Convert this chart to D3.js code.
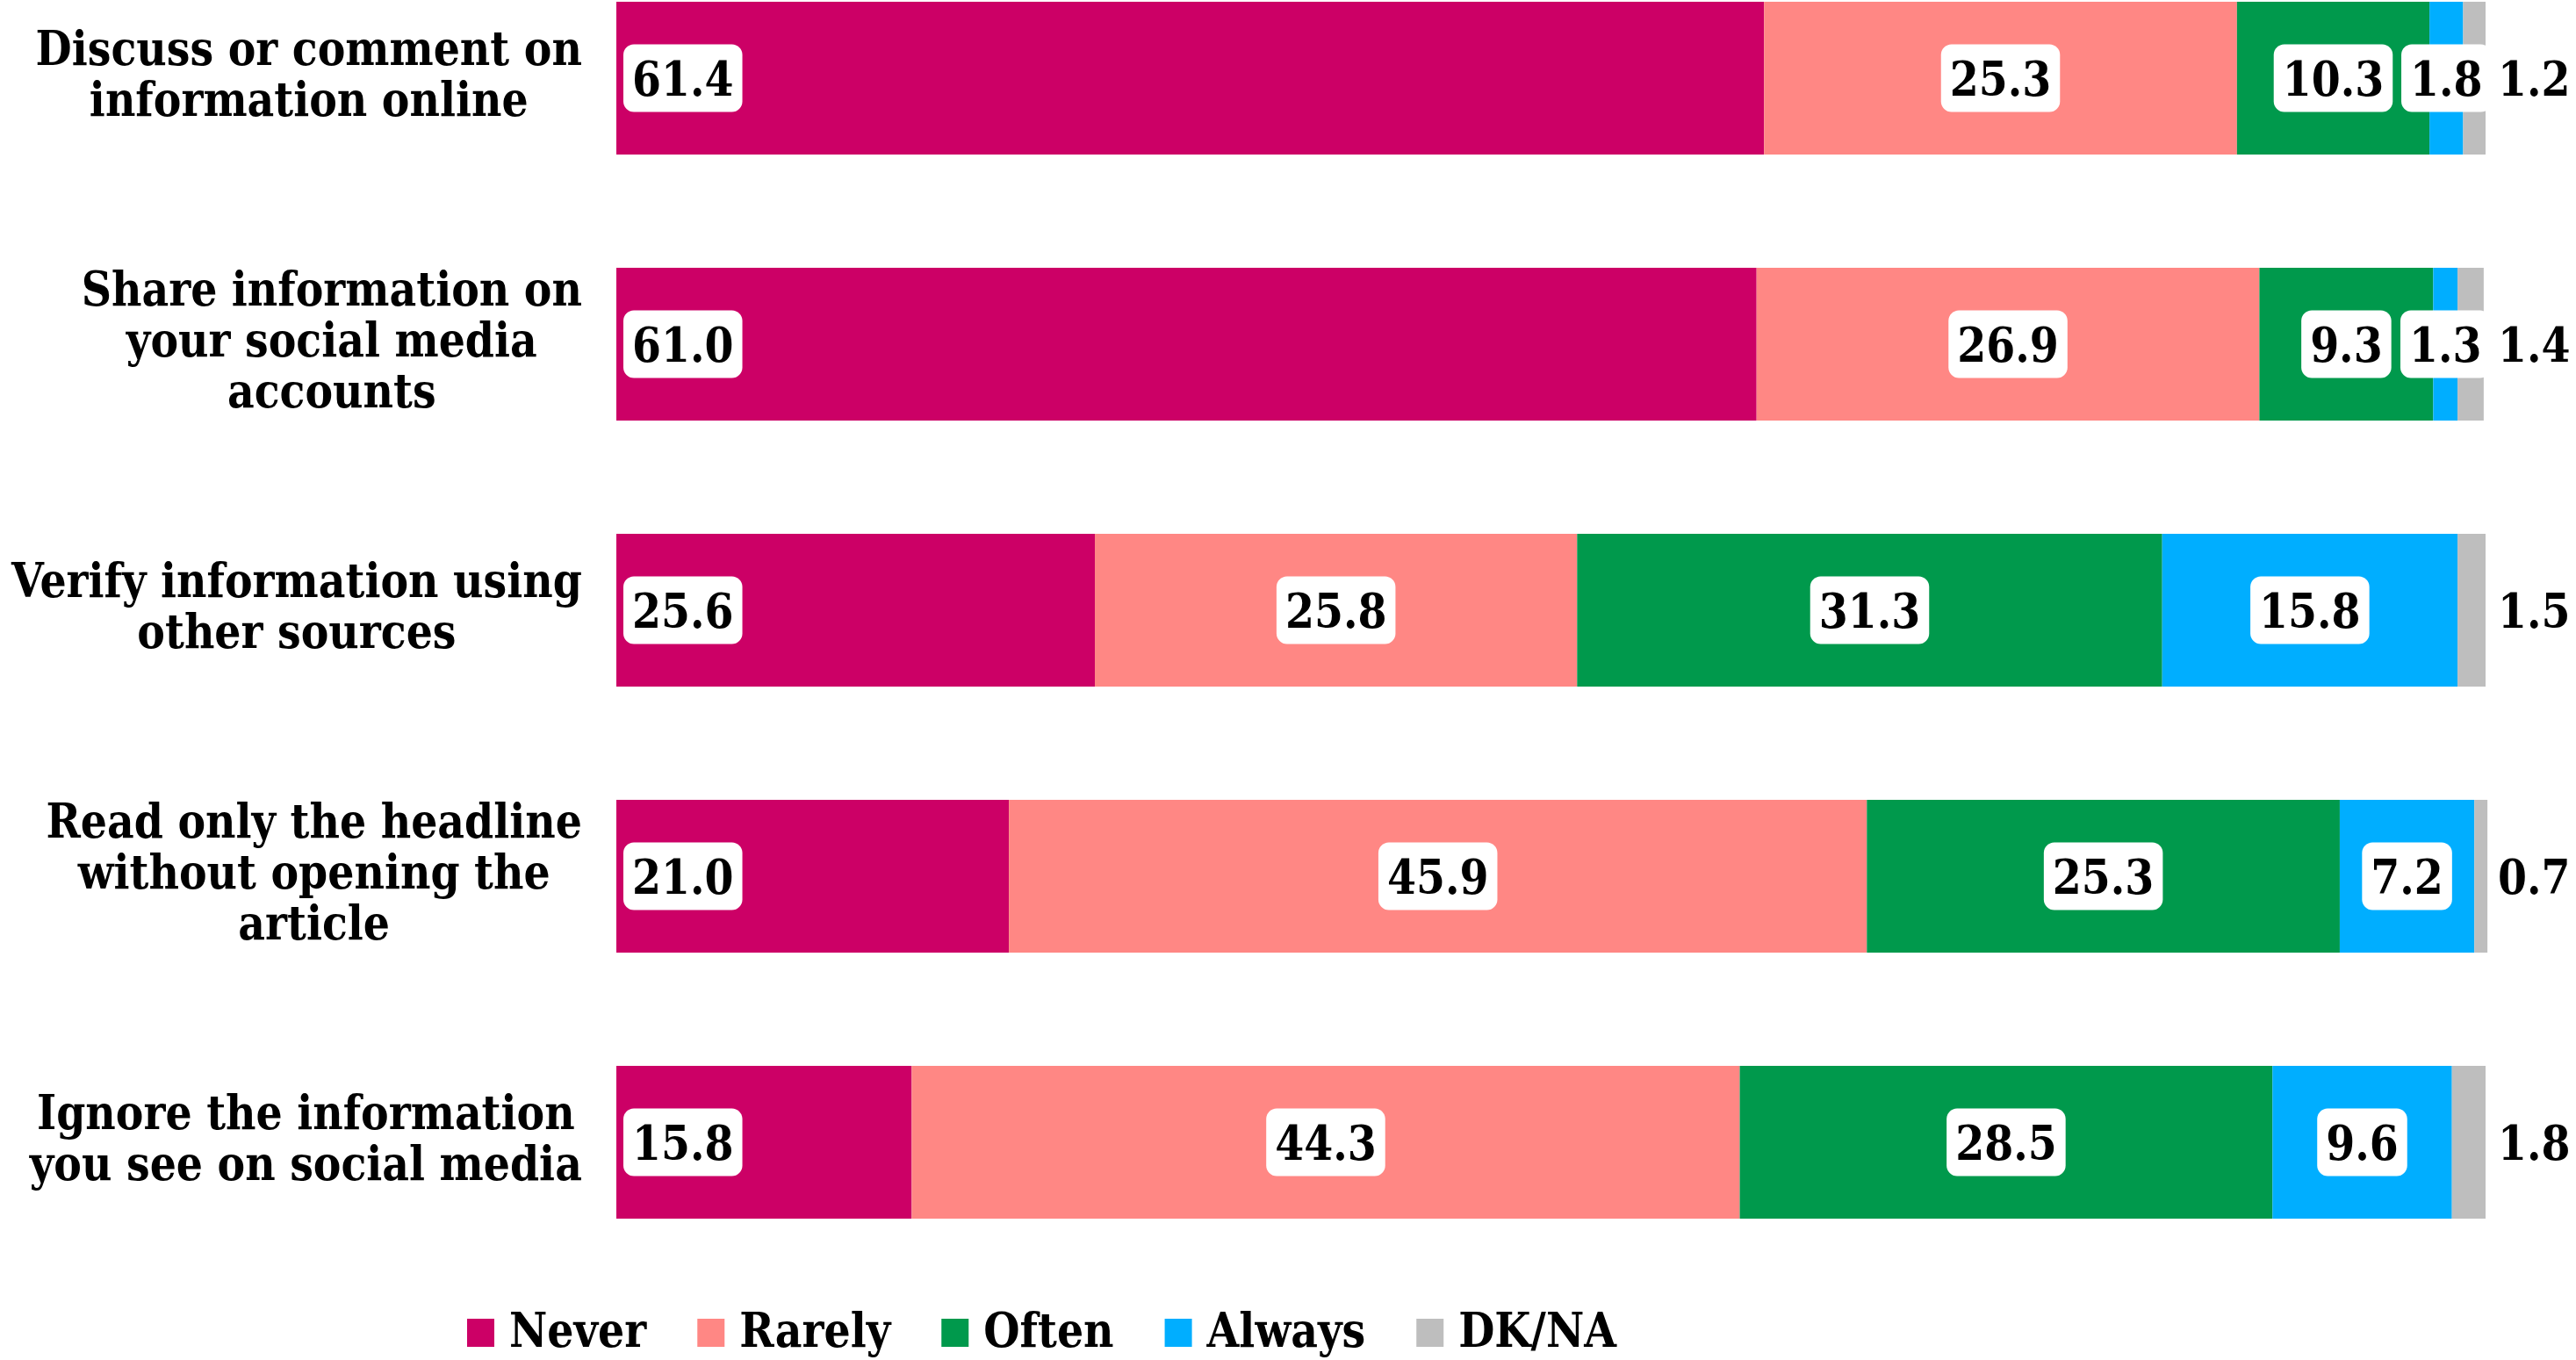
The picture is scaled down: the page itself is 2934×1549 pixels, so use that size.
<!DOCTYPE html>
<html><head><meta charset="utf-8">
<script src="https://cdn.jsdelivr.net/npm/d3@7/dist/d3.min.js"></script>
<style>html,body{margin:0;padding:0;background:#fff;}svg{display:block;}</style>
</head><body>
<svg id="chart" width="2934" height="1549"></svg>
<script>
const categories = [
  ["Discuss or comment on", "information online"],
  ["Share information on", "your social media", "accounts"],
  ["Verify information using", "other sources"],
  ["Read only the headline", "without opening the", "article"],
  ["Ignore the information", "you see on social media"]
];
const seriesNames = ["Never", "Rarely", "Often", "Always", "DK/NA"];
const never  = [61.4, 61.0, 25.6, 21.0, 15.8];
const rarely = [25.3, 26.9, 25.8, 45.9, 44.3];
const often  = [10.3, 9.3, 31.3, 25.3, 28.5];
const always = [1.8, 1.3, 15.8, 7.2, 9.6];
const dkna   = [1.2, 1.4, 1.5, 0.7, 1.8];
const colors = ["#CC0066", "#FF8784", "#00994C", "#00AEFF", "#BEBEBE"];

const valuesBySeries = [never, rarely, often, always, dkna];
const table = categories.map((c, i) => {
  const row = {key: c.join(" ")};
  seriesNames.forEach((s, j) => row[s] = valuesBySeries[j][i]);
  return row;
});

const svg = d3.select("#chart");
const FONT = "'DejaVu Serif', serif";
const FS = 54;

// horizontal condensing factor for text
const probe = svg.append("text").attr("font-family", FONT).attr("font-weight", "bold")
  .attr("font-size", FS).text("Verify information using");
const natW = probe.node().getComputedTextLength();
probe.remove();
const SX = 650 / natW;

const x = d3.scaleLinear().domain([0, 100]).range([702, 2831]);
const y = d3.scaleBand().domain(table.map(d => d.key)).range([2, 1388]).paddingInner(0.4257).paddingOuter(0);

const stack = d3.stack().keys(seriesNames);
const stacked = stack(table);

const gBars = svg.append("g");
stacked.forEach((layer, j) => {
  gBars.selectAll(null).data(layer).enter().append("rect")
    .attr("x", d => x(d[0]))
    .attr("y", d => y(d.data.key))
    .attr("width", d => x(d[1]) - x(d[0]))
    .attr("height", y.bandwidth())
    .attr("fill", colors[j]);
});

function scaledText(g, str, tx, ty, anchor) {
  const t = g.append("text").attr("font-family", FONT).attr("font-weight", "bold")
    .attr("font-size", FS).attr("fill", "#000").text(str);
  const w = t.node().getComputedTextLength() * SX;
  let x0 = tx;
  if (anchor === "middle") x0 = tx - w / 2;
  else if (anchor === "end") x0 = tx - w;
  t.attr("transform", `translate(${x0},${ty}) scale(${SX},1)`);
  return {node: t, w: w};
}

// category labels
const gLab = svg.append("g");
const labelRight = 663, lineH = 58;
categories.forEach((lines, i) => {
  const cy = y(table[i].key) + y.bandwidth() / 2;
  const ws = lines.map(l => {
    const t = gLab.append("text").attr("font-family", FONT).attr("font-weight", "bold").attr("font-size", FS).text(l);
    const w = t.node().getComputedTextLength() * SX; t.remove(); return w;
  });
  const maxW = d3.max(ws);
  const cx = labelRight - maxW / 2;
  const n = lines.length;
  lines.forEach((l, k) => {
    const by = cy + 14 + (k - (n - 1) / 2) * lineH;
    scaledText(gLab, l, cx, by, "middle");
  });
});

// value labels
const gVal = svg.append("g");
stacked.forEach((layer, j) => {
  layer.forEach((d, i) => {
    const v = valuesBySeries[j][i];
    const str = v.toFixed(1);
    const cy = y(d.data.key) + y.bandwidth() / 2;
    if (j === 4) {
      scaledText(gVal, str, x(100) + 14, cy + 20, "start");
      return;
    }
    const g = gVal.append("g");
    const rect = g.append("rect").attr("fill", "#fff").attr("rx", 12).attr("ry", 12);
    let tx, anchor;
    if (j === 0) { tx = x(d[0]) + 8 + 10; anchor = "start"; }
    else { tx = (x(d[0]) + x(d[1])) / 2; anchor = "middle"; }
    const r = scaledText(g, str, tx, cy + 20, anchor);
    const bw = r.w + 20;
    const bx = (anchor === "start") ? tx - 10 : tx - bw / 2;
    rect.attr("x", bx).attr("y", cy - 38.5).attr("width", bw).attr("height", 77);
  });
});

// legend
const gLeg = svg.append("g");
let lx = 532;
seriesNames.forEach((s, j) => {
  gLeg.append("rect").attr("x", lx).attr("y", 1502).attr("width", 31).attr("height", 32).attr("fill", colors[j]);
  const r = scaledText(gLeg, s, lx + 48, 1534, "start");
  lx = lx + 48 + r.w + 58;
});
</script>
</body></html>
